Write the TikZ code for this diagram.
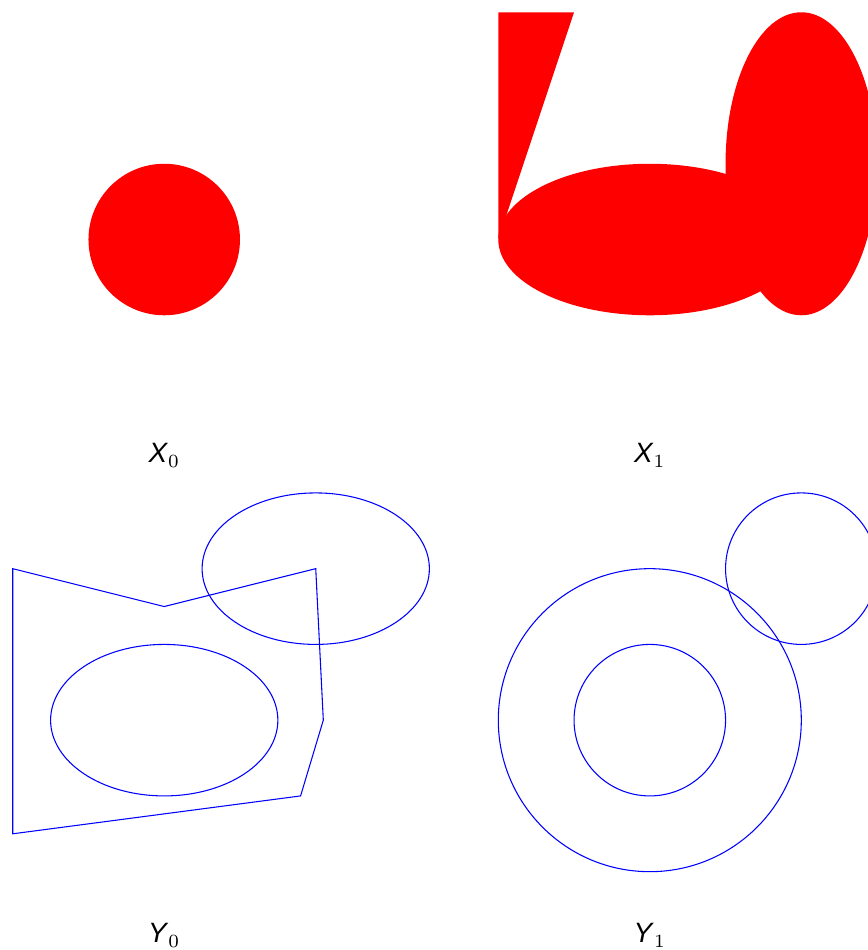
\documentclass[tikz,border=0pt]{standalone}
\usepackage{fontspec}
\setmainfont{Liberation Sans}
\usepackage{tikz}
\usepackage{xcolor}
\definecolor{fillred}{RGB}{255,0,0}
\definecolor{lineblue}{RGB}{0,0,255}

\begin{document}
\begin{tikzpicture}[
    redfill/.style={fill=fillred,draw=none},
    blueline/.style={draw=lineblue,line width=0.4pt,line join=miter},
    setlabel/.style={anchor=base,inner sep=0pt,
                     font=\fontsize{10.5pt}{12pt}\selectfont}]
    \useasboundingbox (-0.168,0.162) rectangle (11.278,-12.379);
    % X_0: one disc
    \fill[redfill] (2,-3) circle (1);
    \node[setlabel] (x0) at (2,-5.95) {\textit{X}$_0$};
    % X_1: wedge and two ellipses
    \begin{scope}[shift={(6.41,0)}]
      \fill[redfill] (0,0) -- (1,0) -- (0,-3) -- cycle;
      \fill[redfill] (2,-3) ellipse (2 and 1);
      \fill[redfill] (4,-2) ellipse (1 and 2);
      \node[setlabel] (x1) at (2,-5.95) {\textit{X}$_1$};
    \end{scope}
    % Y_0: polygon and two ellipses
    \begin{scope}[shift={(0,-7.345)}]
      \draw[blueline] (0,0) -- (2,-0.5) -- (4,0) -- (4.1,-2)
        -- (3.8,-3) -- (0,-3.5) -- cycle;
      \draw[blueline] (2,-2) ellipse (1.5 and 1);
      \draw[blueline] (4,0) ellipse (1.5 and 1);
      \node[setlabel] (y0) at (2,-4.94) {\textit{Y}$_0$};
    \end{scope}
    % Y_1: three circles
    \begin{scope}[shift={(6.41,-7.345)}]
      \draw[blueline] (2,-2) circle (2);
      \draw[blueline] (2,-2) circle (1);
      \draw[blueline] (4,0) circle (1);
      \node[setlabel] (y1) at (2,-4.94) {\textit{Y}$_1$};
    \end{scope}
\end{tikzpicture}
\end{document}
